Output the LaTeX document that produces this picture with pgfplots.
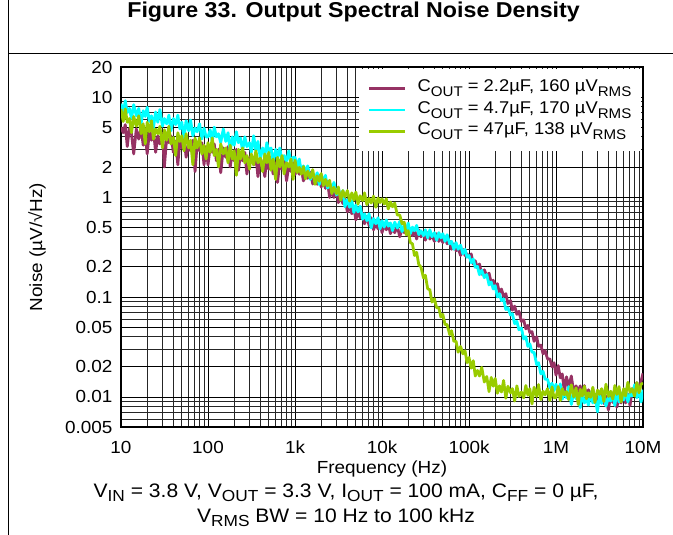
\documentclass[border=0pt]{standalone}
\usepackage{fontspec}
\setmainfont{Liberation Sans}[FakeStretch=1.08]
\usepackage{pgfplots}
\pgfplotsset{compat=1.18}
\usepackage{pgfplotstable}
\definecolor{cmag}{RGB}{150,50,100}
\definecolor{ccyan}{RGB}{0,255,255}
\definecolor{cgreen}{RGB}{153,204,0}
\newcommand{\sub}[1]{\raisebox{-0.3em}{\fontsize{14bp}{14bp}\selectfont #1}}
\newcommand{\nsub}[1]{\raisebox{-0.25em}{\fontsize{16bp}{16bp}\selectfont #1}}

\pgfplotstableread{
f m c g
10 5.0 8.6 7.6
10.6 4.4 6.8 5.7
11.2 5.3 9.2 7.6
11.8 3.2 7.0 5.6
12.5 4.9 7.7 6.1
13.2 4.3 6.1 4.4
14 2.7 8.4 6.4
15 4.8 6.5 5.1
16 3.8 7.7 6.5
17 4.9 5.4 4.3
18 3.3 7.3 5.4
19 4.2 6.4 3.4
20 2.7 7.9 5.6
21.2 4.5 5.7 4.5
22.4 3.7 6.5 5.8
23.6 4.7 4.9 3.8
25 2.8 7.1 4.8
26.5 4.1 5.6 4.3
28 3.4 7.5 5.1
30 4.3 5.1 3.1
31.5 2.0 6.1 4.7
33.5 3.9 5.4 3.7
35.5 3.5 6.6 5.1
37.5 4.1 4.6 3.4
40 2.8 6.1 3.95
42.5 3.6 5.3 2.6
45 2.1 6.6 4.4
47.5 3.8 4.8 3.6
50 3.1 5.6 4.1
53 4.0 3.9 2.9
56 2.5 5.8 4.3
60 3.4 4.6 3.1
63 2.9 5.9 3.7
67 3.7 4.1 2.1
71 1.8 4.9 3.9
75 3.4 4.5 3.1
80 2.9 5.4 3.9
85 3.5 3.8 2.7
90 2.1 4.9 3.3
95 3.2 4.0 2.4
100 2.1 4.0 3.5
106 3.2 4.7 2.8
112 2.8 3.6 3.9
118 3.4 5.0 2.6
125 2.3 4.0 3.0
132 3.0 4.3 2.0
140 1.75 3.5 3.4
150 3.1 4.8 2.7
160 2.5 3.6 3.1
170 3.2 4.4 2.2
180 2.0 2.85 3.3
190 2.8 4.0 2.4
200 2.3 3.3 2.9
212 3.0 4.5 1.65
224 1.85 3.5 3.0
236 2.7 3.9 2.4
250 2.3 2.9 3.1
265 2.8 4.0 2.2
280 1.7 3.2 2.6
300 2.5 3.5 1.9
315 2.5 2.8 2.7
335 2.1 4.1 2.1
355 2.6 2.9 2.9
375 1.6 3.6 2.2
400 2.4 2.4 2.45
425 2.1 3.1 1.8
450 1.6 2.6 2.7
475 2.4 3.5 2.2
500 1.9 2.8 2.8
530 2.5 3.1 1.85
560 1.7 2.2 2.4
600 2.2 3.0 1.5
630 1.4 2.5 2.5
670 2.3 3.1 2.0
710 1.9 2.2 2.6
750 2.4 2.6 1.7
800 1.45 2.3 2.2
850 2.1 2.9 2.0
900 1.8 2.1 2.4
950 2.2 2.5 1.5
1000 1.68 2.5 2.34
1060 1.92 2.0 1.76
1120 1.69 2.4 1.98
1180 1.94 1.8 1.69
1250 1.45 2.05 2.02
1320 1.75 1.8 1.52
1400 1.54 2.05 1.82
1500 1.77 1.5 1.55
1600 1.35 1.7 1.88
1700 1.53 1.5 1.34
1800 1.34 1.75 1.63
1900 1.64 1.33 1.44
2000 1.26 1.65 1.72
2120 1.48 1.45 1.3
2240 1.22 1.65 1.5
2360 1.44 1.23 1.29
2500 0.99 1.37 1.47
2650 1.16 1.17 1.08
2800 0.99 1.4 1.25
3000 1.17 1.05 1.08
3150 0.88 1.22 1.26
3350 1.0 1.0 0.93
3550 0.86 1.16 1.16
3750 0.97 0.8 1.0
4000 0.71 0.94 1.16
4250 0.81 0.79 0.91
4500 0.68 0.92 1.1
4750 0.81 0.7 0.93
5000 0.59 0.83 1.12
5300 0.72 0.71 0.85
5600 0.62 0.81 1.03
6000 0.69 0.6 0.92
6300 0.54 0.68 1.1
6700 0.64 0.58 0.84
7100 0.52 0.68 0.97
7500 0.62 0.49 0.87
8000 0.47 0.61 1.02
8500 0.55 0.54 0.79
9000 0.48 0.62 0.98
9500 0.57 0.48 0.88
10000 0.44 0.58 0.96
10600 0.53 0.5 0.85
11200 0.47 0.59 0.96
11800 0.54 0.51 0.76
12500 0.43 0.55 0.89
13200 0.49 0.46 0.8
14000 0.44 0.56 0.87
15000 0.51 0.49 0.66
16000 0.4 0.57 0.66
17000 0.48 0.45 0.54
18000 0.44 0.52 0.56
19000 0.5 0.47 0.42
20000 0.41 0.55 0.46
21200 0.45 0.43 0.35
22400 0.41 0.5 0.34
23600 0.47 0.46 0.26
25000 0.38 0.52 0.28
26500 0.47 0.42 0.21
28000 0.4 0.46 0.2
30000 0.43 0.41 0.155
31500 0.37 0.47 0.165
33500 0.44 0.39 0.121
35500 0.38 0.47 0.118
37500 0.42 0.4 0.089
40000 0.36 0.44 0.096
42500 0.43 0.37 0.078
45000 0.36 0.44 0.078
47500 0.4 0.39 0.063
50000 0.35 0.43 0.067
53000 0.4 0.36 0.053
56000 0.34 0.42 0.053
60000 0.36 0.34 0.042
63000 0.3 0.36 0.046
67000 0.34 0.3 0.036
71000 0.29 0.35 0.036
75000 0.31 0.3 0.028
80000 0.26 0.33 0.032
85000 0.3 0.27 0.027
90000 0.26 0.3 0.029
95000 0.27 0.25 0.022
100000 0.25 0.26 0.0248
106000 0.27 0.22 0.0194
112000 0.214 0.24 0.023
118000 0.23 0.198 0.0162
125000 0.196 0.202 0.0184
132000 0.214 0.167 0.0162
140000 0.169 0.185 0.0198
150000 0.187 0.156 0.0141
160000 0.163 0.168 0.016
170000 0.173 0.132 0.0113
180000 0.139 0.141 0.0157
190000 0.147 0.12 0.0128
200000 0.127 0.13 0.0153
212000 0.136 0.1 0.0109
224000 0.109 0.108 0.0129
236000 0.12 0.092 0.0112
250000 0.101 0.096 0.0146
265000 0.108 0.075 0.0097
280000 0.086 0.078 0.0128
300000 0.092 0.066 0.011
315000 0.074 0.068 0.0121
335000 0.081 0.054 0.0091
355000 0.067 0.057 0.0129
375000 0.072 0.047 0.0101
400000 0.057 0.049 0.0112
425000 0.059 0.038 0.0098
450000 0.048 0.04 0.013
475000 0.052 0.032 0.0104
500000 0.044 0.034 0.0121
530000 0.045 0.028 0.0085
560000 0.036 0.028 0.0125
600000 0.04 0.021 0.0101
630000 0.032 0.022 0.0133
670000 0.033 0.017 0.0094
710000 0.027 0.018 0.0114
750000 0.029 0.015 0.0105
800000 0.024 0.015 0.0121
850000 0.024 0.0123 0.0092
900000 0.02 0.0137 0.0126
950000 0.022 0.0116 0.0098
1000000 0.0165 0.0134 0.0098
1060000 0.0206 0.0111 0.0127
1120000 0.0155 0.0135 0.0092
1180000 0.017 0.0095 0.0121
1250000 0.0112 0.0112 0.0105
1320000 0.0159 0.0098 0.0113
1400000 0.0126 0.0127 0.0094
1500000 0.0162 0.0084 0.0132
1600000 0.011 0.0111 0.01
1700000 0.0129 0.0096 0.0123
1800000 0.0114 0.0105 0.0084
1900000 0.0129 0.0078 0.0119
2000000 0.0097 0.0112 0.0102
2120000 0.013 0.0087 0.0128
2240000 0.0099 0.0096 0.0096
2360000 0.0118 0.0083 0.011
2500000 0.0096 0.011 0.0099
2650000 0.0121 0.0087 0.0125
2800000 0.0088 0.0101 0.0088
3000000 0.0104 0.0071 0.0117
3150000 0.0095 0.0104 0.0106
3350000 0.0119 0.0086 0.0121
3550000 0.0086 0.0113 0.009
3750000 0.0102 0.0081 0.0134
4000000 0.0074 0.0098 0.0101
4250000 0.0105 0.0091 0.0114
4500000 0.0088 0.0107 0.0095
4750000 0.0109 0.0082 0.013
5000000 0.0079 0.0114 0.0106
5300000 0.0097 0.0089 0.0127
5600000 0.0087 0.0109 0.0089
6000000 0.0116 0.0093 0.0121
6300000 0.0087 0.012 0.0102
6700000 0.0107 0.0089 0.014
7100000 0.0082 0.0109 0.0111
7500000 0.0121 0.0102 0.0121
8000000 0.0105 0.0132 0.0102
8500000 0.0139 0.0098 0.0139
9000000 0.0109 0.0119 0.011
9500000 0.0144 0.0089 0.0134
10000000 0.0172 0.0118 0.0138
}\noisedata

\begin{document}
\begin{tikzpicture}[font=\fontsize{17.5bp}{20bp}\selectfont]
\draw[line width=1bp] (8bp,0bp) -- (8bp,-535bp);
\draw[line width=1bp] (8bp,-53bp) -- (673bp,-53bp);
\node[anchor=base east, inner sep=0pt, font=\fontsize{21.5bp}{24bp}\selectfont\bfseries] at (580bp,-17bp) {Figure 33. Output Spectral Noise Density};
\begin{axis}[
  at={(121bp,-427bp)}, anchor=south west,
  width=522bp, height=360bp, scale only axis,
  xmode=log, ymode=log,
  xmin=10, xmax=1e7, ymin=0.005, ymax=20,
  /pgf/number format/assume math mode=true,
  xtick={10,100,1000,10000,100000,1000000,10000000},
  xticklabels={10,100,1k,10k,100k,1M,10M},
  ytick={0.005,0.01,0.02,0.05,0.1,0.2,0.5,1,2,5,10,20},
  yticklabels={0.005,0.01,0.02,0.05,0.1,0.2,0.5,1,2,5,10,20},
  minor xtick={20,30,40,50,60,70,80,90,200,300,400,500,600,700,800,900,2000,3000,4000,5000,6000,7000,8000,9000,2e4,3e4,4e4,5e4,6e4,7e4,8e4,9e4,2e5,3e5,4e5,5e5,6e5,7e5,8e5,9e5,2e6,3e6,4e6,5e6,6e6,7e6,8e6,9e6},
  minor ytick={0.006,0.007,0.008,0.009,0.02,0.03,0.04,0.05,0.06,0.07,0.08,0.09,0.2,0.3,0.4,0.5,0.6,0.7,0.8,0.9,2,3,4,5,6,7,8,9},
  grid=both,
  major grid style={black, line width=0.8bp},
  minor grid style={black!85, line width=0.8bp},
  major tick length=0pt, minor tick length=0pt,
  axis line style={line width=2.6bp},
  every x tick label/.append style={anchor=center, yshift=-20bp},
  every y tick label/.append style={xshift=-5bp},
  xlabel={Frequency (Hz)},
  ylabel={Noise (µV/√Hz)},
  every axis x label/.style={at={(rel axis cs:0.5,0)}, anchor=center, yshift=-42bp},
  every axis y label/.style={at={(rel axis cs:-0.161,0.5)}, anchor=center, rotate=90},
  legend style={at={(rel axis cs:1,1)}, anchor=north east, xshift=-1.4bp, yshift=-1.4bp,
    draw=none, fill=white, inner xsep=9bp, inner ysep=9bp, row sep=0bp,
    nodes={inner sep=1bp, text height=13bp, text depth=6.5bp},
    font=\fontsize{17bp}{20bp}\selectfont},
  legend cell align=left,
  legend image code/.code={\draw[#1, line width=2.6bp] (0bp,0bp) -- (36bp,0bp); \path (46bp,0bp);},
]
\addplot[cmag, line width=2.8bp, line join=round] table[x=f, y=m] {\noisedata};
\addlegendentry{C\sub{OUT} = 2.2µF, 160 µV\sub{RMS}}
\addplot[ccyan, line width=2.8bp, line join=round] table[x=f, y=c] {\noisedata};
\addlegendentry{C\sub{OUT} = 4.7µF, 170 µV\sub{RMS}}
\addplot[cgreen, line width=2.8bp, line join=round] table[x=f, y=g] {\noisedata};
\addlegendentry{C\sub{OUT} = 47µF, 138 µV\sub{RMS}}
\end{axis}
\node[anchor=base, inner sep=0pt, font=\fontsize{19.5bp}{22bp}\selectfont] at (346bp,-497bp) {V\nsub{IN} = 3.8 V, V\nsub{OUT} = 3.3 V, I\nsub{OUT} = 100 mA, C\nsub{FF} = 0 µF,};
\node[anchor=base, inner sep=0pt, font=\fontsize{19.5bp}{22bp}\selectfont] at (336bp,-522bp) {V\nsub{RMS} BW = 10 Hz to 100 kHz};
\pgfresetboundingbox
\useasboundingbox (0bp,0bp) rectangle (673bp,-535bp);
\end{tikzpicture}
\end{document}
